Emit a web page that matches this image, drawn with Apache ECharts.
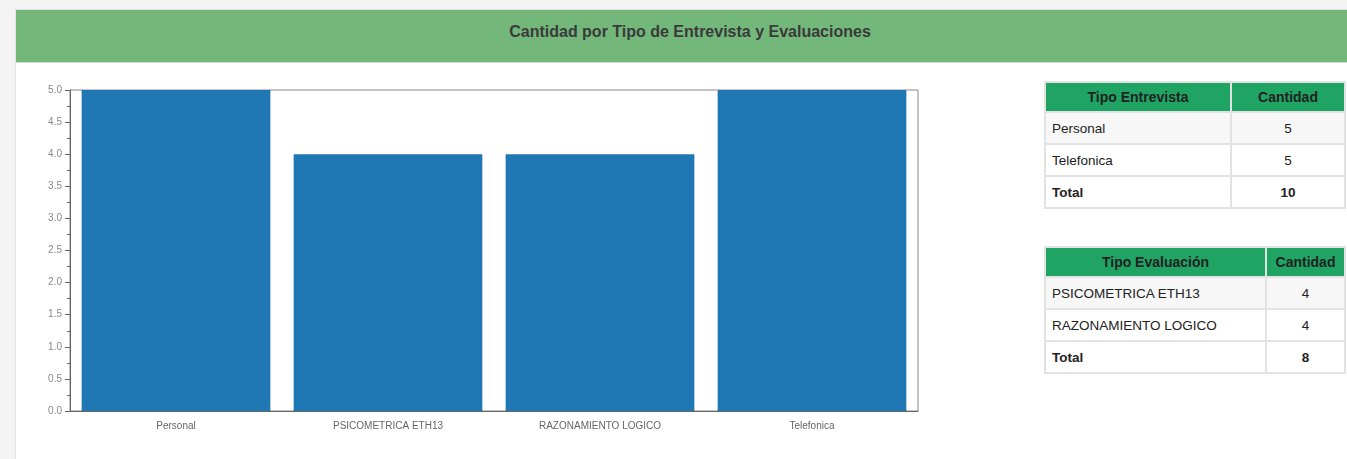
<!DOCTYPE html>
<html><head><meta charset="utf-8">
<script src="https://cdn.jsdelivr.net/npm/echarts@6/dist/echarts.min.js"></script>
<style>
html,body{margin:0;padding:0;background:#f3f3f3;width:1347px;height:459px;overflow:hidden;font-family:"Liberation Sans",Arial,sans-serif;}
#panel{position:absolute;left:15px;top:9px;width:1360px;height:470px;background:#fff;border:1px solid #e2e2e2;box-sizing:border-box;}
#hdr{position:absolute;left:0;top:0;right:0;height:52px;background:#73b87a;border-bottom:1px solid #d6d6d6;text-align:center;line-height:44px;font-weight:bold;font-size:16px;color:#3a3a3a;}
#hdr span{position:absolute;left:0;width:1348px;text-align:center;}
#chart{position:absolute;left:0;top:0;width:1000px;height:459px;}
table{position:absolute;border-collapse:collapse;font-size:13.5px;color:#222;}
table td,table th{border:2px solid #e2e2e2;padding:0 6px;}
table td{height:30px;}
table th{height:28px;background:#1fa463;font-weight:bold;font-size:14px;color:#222;text-align:center;}
td.n{text-align:center;}
tr.s td{background:#f7f7f7;}
tr.t td{font-weight:bold;}
</style></head>
<body>
<div id="panel"><div id="hdr"><span>Cantidad por Tipo de Entrevista y Evaluaciones</span></div></div>
<div id="chart"></div>
<table id="t1" style="left:1044px;top:81px;width:302px;">
<thead><tr><th style="width:172px">Tipo Entrevista</th><th>Cantidad</th></tr></thead>
<tbody id="b1"></tbody></table>
<table id="t2" style="left:1044px;top:246px;width:302px;">
<thead><tr><th style="width:207px">Tipo Evaluación</th><th>Cantidad</th></tr></thead>
<tbody id="b2"></tbody></table>
<script>
const categories = ['Personal','PSICOMETRICA ETH13','RAZONAMIENTO LOGICO','Telefonica'];
const values = [5,4,4,5];
const entrevistaTipos = ['Personal','Telefonica'];
const entrevistaCant = [5,5];
const evaluacionTipos = ['PSICOMETRICA ETH13','RAZONAMIENTO LOGICO'];
const evaluacionCant = [4,4];

function fill(id, names, vals){
  const tb = document.getElementById(id);
  let html='';
  names.forEach((n,i)=>{ html += '<tr class="'+(i%2===0?'s':'')+'"><td>'+n+'</td><td class="n">'+vals[i]+'</td></tr>'; });
  const tot = vals.reduce((a,b)=>a+b,0);
  html += '<tr class="t"><td>Total</td><td class="n">'+tot+'</td></tr>';
  tb.innerHTML = html;
}
fill('b1', entrevistaTipos, entrevistaCant);
fill('b2', evaluacionTipos, evaluacionCant);

const chart = echarts.init(document.getElementById('chart'));
chart.setOption({
  animation:false,
  grid:{left:70,top:90,width:848,height:321,show:true,borderColor:'#888',borderWidth:1,backgroundColor:'transparent'},
  xAxis:{type:'category',data:categories,
    axisLine:{lineStyle:{color:'#666'}},
    axisTick:{alignWithLabel:true,length:4,lineStyle:{color:'#666'}},
    axisLabel:{color:'#666',fontSize:10,margin:10,fontFamily:'Liberation Sans'}},
  yAxis:{type:'value',min:0,max:5,interval:0.5,
    axisLine:{show:true,lineStyle:{color:'#666'}},
    axisTick:{show:true,length:5,lineStyle:{color:'#666'}},
    minorTick:{show:true,splitNumber:2,length:3,lineStyle:{color:'#666'}},
    splitLine:{show:false},
    axisLabel:{color:'#888',fontSize:10,margin:8,fontFamily:'Liberation Sans',formatter:v=>v.toFixed(1)}},
  series:[{type:'bar',data:values,barWidth:'89%',itemStyle:{color:'#1f77b4'}}]
});
</script>
</body></html>
